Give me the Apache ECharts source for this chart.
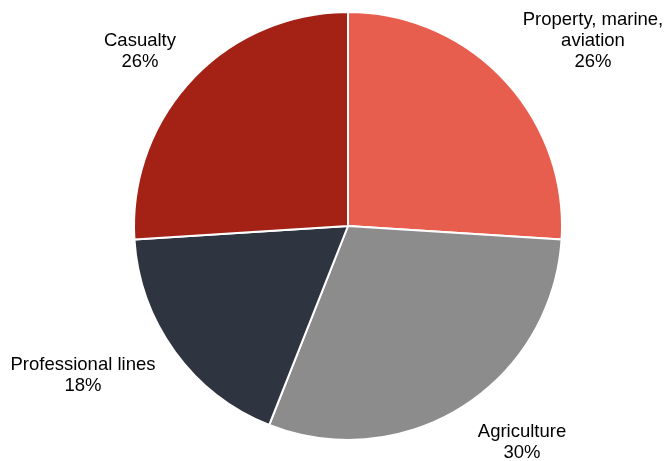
<!DOCTYPE html>
<html><head><meta charset="utf-8">
<script src="https://cdn.jsdelivr.net/npm/echarts@6/dist/echarts.min.js"></script>
<style>html,body{margin:0;padding:0;background:#fff}#c{width:666px;height:461px}</style>
</head><body><div id="c"></div>
<script>
var categories = ["Property, marine,\naviation", "Agriculture", "Professional lines", "Casualty"];
var values = [26, 30, 18, 26];
var colors = ["#E85E4E", "#8C8C8C", "#2E3540", "#A32215"];
var labelPos = [[593, 41], [522, 442], [83, 375], [140, 51]];

var chart = echarts.init(document.getElementById('c'), null, {renderer: 'canvas'});
chart.setOption({
  animation: false,
  series: [{
    type: 'pie',
    center: [348, 226],
    radius: [0, 214],
    startAngle: 90,
    clockwise: true,
    avoidLabelOverlap: false,
    data: categories.map(function (c, i) {
      return {name: c, value: values[i], itemStyle: {color: colors[i]}};
    }),
    itemStyle: {borderColor: '#fff', borderWidth: 2},
    label: {
      show: true,
      position: 'outside',
      formatter: function (p) { return p.name + '\n' + p.value + '%'; },
      fontFamily: 'Liberation Sans, Arial, sans-serif',
      fontSize: 18.5,
      lineHeight: 21,
      color: '#000',
      align: 'center'
    },
    labelLine: {show: false},
    labelLayout: function (params) {
      var p = labelPos[params.dataIndex];
      return {x: p[0], y: p[1], align: 'center', verticalAlign: 'middle'};
    },
    emphasis: {disabled: true}
  }]
});
</script></body></html>
